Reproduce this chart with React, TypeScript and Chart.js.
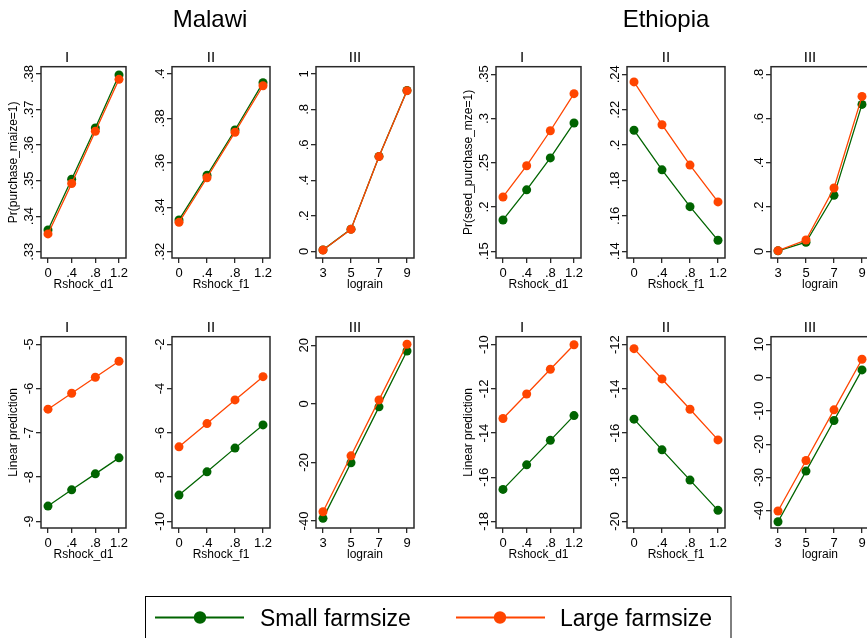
import React, { useEffect, useRef } from "react";
import { Chart, registerables } from "chart.js";

Chart.register(...registerables);

const FONT = "'Liberation Sans', Arial, Helvetica, sans-serif";
const GREEN = "#006400";
const ORANGE = "#FF4500";
const FRAME = "#2a2a2a";

// x values and tick labels
const shockX = [0, 0.4, 0.8, 1.2];
const rainX = [3, 5, 7, 9];
const shockTicks = [0, 0.4, 0.8, 1.2];
const rainTicks = [3, 5, 7, 9];

// Malawi, Pr(purchase_maize=1)
const mwPrISmall = [0.3361, 0.3504, 0.3648, 0.3797];
const mwPrILarge = [0.335, 0.3492, 0.3639, 0.3785];
const mwPrIISmall = [0.3343, 0.3544, 0.3748, 0.3961];
const mwPrIILarge = [0.3332, 0.3533, 0.3738, 0.3947];
const mwPrIIISmall = [0.008, 0.125, 0.535, 0.907];
const mwPrIIILarge = [0.007, 0.124, 0.534, 0.906];

// Ethiopia, Pr(seed_purchase_mze=1)
const etPrISmall = [0.1854, 0.2194, 0.2555, 0.295];
const etPrILarge = [0.2114, 0.2467, 0.2862, 0.3281];
const etPrIISmall = [0.2084, 0.186, 0.1652, 0.1462];
const etPrIILarge = [0.2357, 0.2115, 0.1887, 0.1679];
const etPrIIISmall = [0.002, 0.041, 0.253, 0.664];
const etPrIIILarge = [0.003, 0.051, 0.286, 0.7];

// Malawi, linear prediction
const mwLpISmall = [-8.654, -8.287, -7.926, -7.565];
const mwLpILarge = [-6.466, -6.105, -5.744, -5.383];
const mwLpIISmall = [-8.81, -7.76, -6.69, -5.64];
const mwLpIILarge = [-6.632, -5.581, -4.512, -3.461];
const mwLpIIISmall = [-39.1, -20.1, -1.03, 18.06];
const mwLpIIILarge = [-36.83, -17.74, 1.35, 20.34];

// Ethiopia, linear prediction
const etLpISmall = [-16.55, -15.44, -14.33, -13.21];
const etLpILarge = [-13.34, -12.23, -11.11, -10.0];
const etLpIISmall = [-15.37, -16.76, -18.13, -19.5];
const etLpIILarge = [-12.18, -13.55, -14.92, -16.31];
const etLpIIISmall = [-43.3, -28.1, -12.9, 2.3];
const etLpIIILarge = [-40.1, -24.9, -9.7, 5.5];

// y tick values
const mwPrITicks = [0.33, 0.34, 0.35, 0.36, 0.37, 0.38];
const mwPrIITicks = [0.32, 0.34, 0.36, 0.38, 0.4];
const mwPrIIITicks = [0, 0.2, 0.4, 0.6, 0.8, 1];
const etPrITicks = [0.15, 0.2, 0.25, 0.3, 0.35];
const etPrIITicks = [0.14, 0.16, 0.18, 0.2, 0.22, 0.24];
const etPrIIITicks = [0, 0.2, 0.4, 0.6, 0.8];
const mwLpITicks = [-9, -8, -7, -6, -5];
const mwLpIITicks = [-10, -8, -6, -4, -2];
const mwLpIIITicks = [-40, -20, 0, 20];
const etLpITicks = [-18, -16, -14, -12, -10];
const etLpIITicks = [-20, -18, -16, -14, -12];
const etLpIIITicks = [-40, -30, -20, -10, 0, 10];

const fmt = (v: number) => {
  const s = String(+v.toFixed(4));
  return s.replace(/^0\./, ".").replace(/^-0\./, "-.");
};

type PanelCfg = {
  rx: number;
  ry: number;
  left: number;
  xs: number[];
  xt: number[];
  xr: [number, number];
  xTitle: string;
  yTitle?: string;
  yt: number[];
  yr: [number, number];
  small: number[];
  large: number[];
  sub: string;
};

const R1 = [-0.1183, 1.3183] as [number, number];
const R2 = [-0.1, 1.3] as [number, number];
const R3 = [2.5, 9.5] as [number, number];

const panels: PanelCfg[] = [
  { rx: 0, ry: 30, left: 41, xs: shockX, xt: shockTicks, xr: R1, xTitle: "Rshock_d1", yTitle: "Pr(purchase_maize=1)", yt: mwPrITicks, yr: [0.32823, 0.38205], small: mwPrISmall, large: mwPrILarge, sub: "I" },
  { rx: 144, ry: 30, left: 28, xs: shockX, xt: shockTicks, xr: R2, xTitle: "Rshock_f1", yt: mwPrIITicks, yr: [0.31716, 0.40329], small: mwPrIISmall, large: mwPrIILarge, sub: "II" },
  { rx: 288, ry: 30, left: 28, xs: rainX, xt: rainTicks, xr: R3, xTitle: "lograin", yt: mwPrIIITicks, yr: [-0.0378, 1.041], small: mwPrIIISmall, large: mwPrIIILarge, sub: "III" },
  { rx: 455, ry: 30, left: 41, xs: shockX, xt: shockTicks, xr: R1, xTitle: "Rshock_d1", yTitle: "Pr(seed_purchase_mze=1)", yt: etPrITicks, yr: [0.1424, 0.3586], small: etPrISmall, large: etPrILarge, sub: "I" },
  { rx: 599, ry: 30, left: 28, xs: shockX, xt: shockTicks, xr: R2, xTitle: "Rshock_f1", yt: etPrIITicks, yr: [0.1362, 0.2443], small: etPrIISmall, large: etPrIILarge, sub: "II" },
  { rx: 743, ry: 30, left: 28, xs: rainX, xt: rainTicks, xr: R3, xTitle: "lograin", yt: etPrIIITicks, yr: [-0.0303, 0.8343], small: etPrIIISmall, large: etPrIIILarge, sub: "III" },
  { rx: 0, ry: 300, left: 41, xs: shockX, xt: shockTicks, xr: R1, xTitle: "Rshock_d1", yTitle: "Linear prediction", yt: mwLpITicks, yr: [-9.149, -4.829], small: mwLpISmall, large: mwLpILarge, sub: "I" },
  { rx: 144, ry: 300, left: 28, xs: shockX, xt: shockTicks, xr: R2, xTitle: "Rshock_f1", yt: mwLpIITicks, yr: [-10.298, -1.657], small: mwLpIISmall, large: mwLpIILarge, sub: "II" },
  { rx: 288, ry: 300, left: 28, xs: rainX, xt: rainTicks, xr: R3, xTitle: "lograin", yt: mwLpIIITicks, yr: [-42.39, 22.93], small: mwLpIIISmall, large: mwLpIIILarge, sub: "III" },
  { rx: 455, ry: 300, left: 41, xs: shockX, xt: shockTicks, xr: R1, xTitle: "Rshock_d1", yTitle: "Linear prediction", yt: etLpITicks, yr: [-18.298, -9.638], small: etLpISmall, large: etLpILarge, sub: "I" },
  { rx: 599, ry: 300, left: 28, xs: shockX, xt: shockTicks, xr: R2, xTitle: "Rshock_f1", yt: etLpIITicks, yr: [-20.298, -11.638], small: etLpIISmall, large: etLpIILarge, sub: "II" },
  { rx: 743, ry: 300, left: 28, xs: rainX, xt: rainTicks, xr: R3, xTitle: "lograin", yt: etLpIIITicks, yr: [-45.19, 12.28], small: etLpIIISmall, large: etLpIIILarge, sub: "III" },
];

const PW = 144;
const PH = 270;

const decoPlugin = {
  id: "panelDeco",
  afterDraw(chart: any, _args: any, opts: any) {
    const { ctx, chartArea: a } = chart;
    const ys = chart.scales.y;
    ctx.save();
    ctx.strokeStyle = FRAME;
    ctx.lineWidth = 1.5;
    ctx.strokeRect(a.left, a.top, a.right - a.left, a.bottom - a.top);
    ctx.fillStyle = "#000";
    ctx.font = `13px ${FONT}`;
    ctx.textAlign = "center";
    ctx.textBaseline = "middle";
    ys.ticks.forEach((t: any) => {
      const py = ys.getPixelForValue(t.value);
      ctx.save();
      ctx.translate(a.left - 12, py);
      ctx.rotate(-Math.PI / 2);
      ctx.fillText(fmt(t.value), 0, 0);
      ctx.restore();
    });
    ctx.font = `15px ${FONT}`;
    ctx.textBaseline = "alphabetic";
    ctx.fillText(opts.sub, 67, 31.5);
    ctx.restore();
  },
};

function Panel({ cfg }: { cfg: PanelCfg }) {
  const ref = useRef<HTMLCanvasElement | null>(null);
  useEffect(() => {
    const gridOpts = {
      display: true,
      drawOnChartArea: false,
      drawTicks: true,
      tickLength: 5,
      color: FRAME,
      lineWidth: 1.3,
    };
    const mk = (vals: number[]) => cfg.xs.map((x, i) => ({ x, y: vals[i] }));
    const chart = new Chart(ref.current as HTMLCanvasElement, {
      type: "line",
      data: {
        datasets: [
          {
            label: "Large farmsize",
            data: mk(cfg.large),
            borderColor: ORANGE,
            backgroundColor: ORANGE,
            pointBackgroundColor: ORANGE,
            pointBorderWidth: 0,
            pointRadius: 4.5,
            borderWidth: 1.3,
            order: 0,
            clip: false as any,
          },
          {
            label: "Small farmsize",
            data: mk(cfg.small),
            borderColor: GREEN,
            backgroundColor: GREEN,
            pointBackgroundColor: GREEN,
            pointBorderWidth: 0,
            pointRadius: 4.5,
            borderWidth: 1.3,
            order: 1,
            clip: false as any,
          },
        ],
      },
      options: {
        animation: false,
        responsive: false,
        events: [],
        layout: { padding: { left: 0, right: PW - 126, top: 36.7, bottom: 0 } },
        plugins: {
          legend: { display: false },
          tooltip: { enabled: false },
          panelDeco: { sub: cfg.sub },
        } as any,
        scales: {
          x: {
            type: "linear",
            min: cfg.xr[0],
            max: cfg.xr[1],
            afterBuildTicks: (s: any) => {
              s.ticks = cfg.xt.map((v) => ({ value: v }));
            },
            afterFit: (s: any) => {
              s.height = 42;
            },
            grid: gridOpts,
            border: { display: false },
            ticks: {
              padding: 3,
              color: "#000",
              font: { family: FONT, size: 13 },
              maxRotation: 0,
              autoSkip: false,
              callback: (v: any) => fmt(Number(v)),
            },
            title: {
              display: true,
              text: cfg.xTitle,
              color: "#000",
              font: { family: FONT, size: 12 },
              padding: { top: 0, bottom: 8.5 },
            },
          },
          y: {
            type: "linear",
            min: cfg.yr[0],
            max: cfg.yr[1],
            afterBuildTicks: (s: any) => {
              s.ticks = cfg.yt.map((v) => ({ value: v }));
            },
            afterFit: (s: any) => {
              s.width = cfg.left;
            },
            grid: gridOpts,
            border: { display: false },
            ticks: { display: false },
            title: cfg.yTitle
              ? {
                  display: true,
                  text: cfg.yTitle,
                  color: "#000",
                  font: { family: FONT, size: 12 },
                  padding: { top: 6.8, bottom: 0 },
                }
              : { display: false },
          },
        } as any,
      },
      plugins: [decoPlugin as any],
    });
    return () => chart.destroy();
  }, []);
  return (
    <canvas
      ref={ref}
      width={PW}
      height={PH}
      style={{ position: "absolute", left: cfg.rx, top: cfg.ry, width: PW, height: PH }}
    />
  );
}

export default function App() {
  return (
    <div
      style={{
        position: "absolute",
        left: 0,
        top: 0,
        width: 867,
        height: 638,
        overflow: "hidden",
        background: "#fff",
        fontFamily: FONT,
      }}
    >
      {panels.map((p, i) => (
        <Panel key={i} cfg={p} />
      ))}
      <svg
        width={867}
        height={638}
        style={{ position: "absolute", left: 0, top: 0, pointerEvents: "none" }}
        fontFamily={FONT}
      >
        <text x={210} y={27} fontSize={24} textAnchor="middle" fill="#000">Malawi</text>
        <text x={666} y={27} fontSize={24} textAnchor="middle" fill="#000">Ethiopia</text>
        <rect x={145.5} y={596.5} width={585.5} height={60} fill="#fff" stroke="#000" strokeWidth={1} />
        <line x1={155} x2={244} y1={617.5} y2={617.5} stroke={GREEN} strokeWidth={2} />
        <circle cx={200} cy={617.5} r={6.2} fill={GREEN} />
        <text x={260} y={626} fontSize={23} fill="#000">Small farmsize</text>
        <line x1={456} x2={545} y1={617.5} y2={617.5} stroke={ORANGE} strokeWidth={2} />
        <circle cx={500} cy={617.5} r={6.2} fill={ORANGE} />
        <text x={560} y={626} fontSize={23} fill="#000">Large farmsize</text>
      </svg>
    </div>
  );
}
